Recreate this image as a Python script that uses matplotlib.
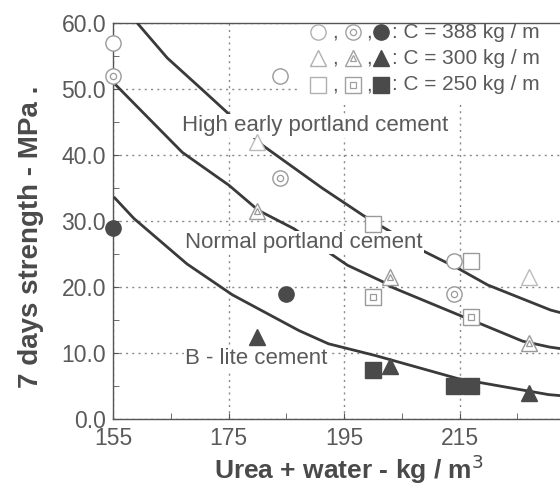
import matplotlib
matplotlib.use("Agg")
import matplotlib.pyplot as plt
from matplotlib.patches import Rectangle

plt.rcParams["font.family"] = ["Liberation Sans", "DejaVu Sans"]

# C = 388 kg/m3 : open, dotted, filled circles
x_open_388 = [155, 184, 214]
y_open_388 = [57, 52, 24]
x_dot_388 = [155, 184, 214]
y_dot_388 = [52, 36.5, 19]
x_fill_388 = [155, 185]
y_fill_388 = [29, 19]

# C = 300 kg/m3 : triangles
x_open_300 = [180, 227]
y_open_300 = [42, 21.5]
x_dot_300 = [180, 203, 227]
y_dot_300 = [31.5, 21.5, 11.5]
x_fill_300 = [180, 203, 227]
y_fill_300 = [12.5, 8, 4]

# C = 250 kg/m3 : squares
x_open_250 = [200, 217]
y_open_250 = [29.5, 24]
x_dot_250 = [200, 217]
y_dot_250 = [18.5, 15.5]
x_fill_250 = [200, 214, 217]
y_fill_250 = [7.5, 5, 5]

# fitted curves for the three cements
high_x = [159, 164.4, 170.2, 174.7, 181, 191.2, 198.4, 208.4, 214.8, 219.9, 230.8, 233]
high_y = [60.2, 54.7, 50.1, 46.5, 41.4, 35, 30.8, 25.6, 22.8, 20.3, 16.5, 16]
normal_x = [155.5, 167, 175.1, 180.2, 186.4, 195.6, 201.7, 203.2, 215.6, 219, 225.9, 230.6, 233]
normal_y = [50.6, 40.4, 35.4, 31.6, 28.8, 23.3, 20.8, 20.0, 15.5, 14.3, 11.8, 10.9, 10.6]
blite_x = [155.3, 158.6, 167.8, 175.7, 187.2, 192.3, 200.5, 214.8, 230.4, 233]
blite_y = [33.5, 30.4, 23.5, 18.8, 13.4, 11.4, 9.6, 6.1, 3.7, 3.5]

curve_names = ["High early portland cement", "Normal portland cement", "B - lite cement"]
curve_label_x = [167.0, 167.5, 167.5]
curve_label_y = [44.4, 26.7, 9.1]

x_ticks = [155, 175, 195, 215]
y_ticks = [0, 10, 20, 30, 40, 50, 60]

legend_rows = ["C = 388 kg / m", "C = 300 kg / m", "C = 250 kg / m"]

W, H = 560, 492
fig = plt.figure(figsize=(W / 100, H / 100), dpi=100)
ax = fig.add_axes([113 / W, 73 / H, 462 / W, 396 / H])
ax.set_xlim(155, 235)
ax.set_ylim(0, 60)

line_c = "#3a3a3a"
open_c = "#9a9a9a"
fill_c = "#4a4a4a"
text_c = "#5a5a5a"

# curves
for xs, ys in [(high_x, high_y), (normal_x, normal_y), (blite_x, blite_y)]:
    ax.plot(xs, ys, color=line_c, lw=2.0, zorder=3, clip_on=True)

for name, lx, ly in zip(curve_names, curve_label_x, curve_label_y):
    ax.text(lx, ly, name, fontsize=16, color=text_c, ha="left", va="center", zorder=4,
            bbox=dict(boxstyle="square,pad=0.05", fc="white", ec="none"))

# markers
mk = dict(ls="none", zorder=5, clip_on=False)
ax.plot(x_open_388, y_open_388, marker="o", ms=11, mfc="white", mec=open_c, mew=1.0, **mk)
ax.plot(x_dot_388, y_dot_388, marker="o", ms=11, mfc="white", mec=open_c, mew=1.0, **mk)
ax.plot(x_dot_388, y_dot_388, marker="o", ms=4.5, mfc="none", mec=open_c, mew=0.9, **mk)
ax.plot(x_fill_388, y_fill_388, marker="o", ms=11, mfc=fill_c, mec=fill_c, **mk)

ax.plot(x_open_300, y_open_300, marker="^", ms=11, mfc="white", mec="#bbbbbb", mew=1.0, **mk)
ax.plot(x_dot_300, y_dot_300, marker="^", ms=11, mfc="white", mec=open_c, mew=1.0, **mk)
ax.plot(x_dot_300, y_dot_300, marker="^", ms=4.5, mfc="none", mec=open_c, mew=0.9, **mk)
ax.plot(x_fill_300, y_fill_300, marker="^", ms=11, mfc=fill_c, mec=fill_c, **mk)

ax.plot(x_open_250, y_open_250, marker="s", ms=12, mfc="white", mec=open_c, mew=1.0, **mk)
ax.plot(x_dot_250, y_dot_250, marker="s", ms=12, mfc="white", mec=open_c, mew=1.0, **mk)
ax.plot(x_dot_250, y_dot_250, marker="s", ms=5, mfc="none", mec=open_c, mew=0.9, **mk)
ax.plot(x_fill_250, y_fill_250, marker="s", ms=12, mfc=fill_c, mec=fill_c, **mk)

# axes styling
ax.set_xticks(x_ticks)
ax.set_yticks(y_ticks)
ax.set_xticks([165, 185, 205, 225], minor=True)
ax.set_yticks([5, 15, 25, 35, 45, 55], minor=True)
ax.set_yticklabels([f"{v:.1f}" for v in y_ticks])
ax.tick_params(which="both", direction="in", color="#555555", labelcolor=text_c)
ax.tick_params(which="major", length=4, labelsize=16.5)
ax.tick_params(which="minor", length=4)
ax.tick_params(axis="x", pad=6)
ax.tick_params(axis="y", pad=5)
ax.grid(True, which="major", ls=(0, (1.5, 3)), color="#8a8a8a", lw=1.0, zorder=1)
ax.set_axisbelow(True)
for side in ["left", "bottom", "top"]:
    ax.spines[side].set_color("#555555")
    ax.spines[side].set_linewidth(1.0)
ax.spines["right"].set_visible(False)

ax.set_xlabel("Urea + water - kg / m$^3$", fontsize=19, fontweight="bold", color="#4a4a4a", labelpad=2)
ax.set_ylabel("7 days strength - MPa .", fontsize=20, fontweight="bold", color="#4a4a4a", labelpad=4)
ax.yaxis.set_label_coords(-0.15, 0.46)
ax.xaxis.set_label_coords(0.51, -0.085)

# legend block in the upper right corner
def fx(px):
    return px / W

def fy(py):
    return 1 - py / H

ax.add_patch(Rectangle((fx(300), fy(104)), fx(262), 80 / H, transform=fig.transFigure,
                       fc="white", ec="none", zorder=1.5))
legend_y = [32, 58, 85]
legend_markers = [("o", 11, 4.5), ("^", 11, 4.5), ("s", 12, 5)]
for row_y, label, (m, ms, inner) in zip(legend_y, legend_rows, legend_markers):
    yy = fy(row_y)
    lk = dict(transform=fig.transFigure, ls="none", clip_on=False, zorder=6)
    ax.plot([fx(318)], [yy], marker=m, ms=ms, mfc="white", mec="#b0b0b0", mew=1.0, **lk)
    ax.plot([fx(353)], [yy], marker=m, ms=ms, mfc="white", mec="#a0a0a0", mew=1.0, **lk)
    ax.plot([fx(353)], [yy], marker=m, ms=inner, mfc="none", mec="#a0a0a0", mew=0.9, **lk)
    ax.plot([fx(381)], [yy], marker=m, ms=ms, mfc=fill_c, mec=fill_c, **lk)
    fig.text(fx(332), yy, ",", fontsize=15, color=text_c, ha="left", va="center")
    fig.text(fx(366), yy, ",", fontsize=15, color=text_c, ha="left", va="center")
    fig.text(fx(392), yy, ": " + label, fontsize=15, color=text_c, ha="left", va="center")

fig.savefig("out.png", dpi=100)
